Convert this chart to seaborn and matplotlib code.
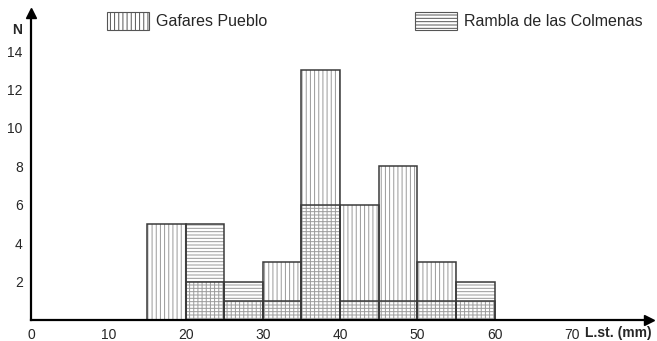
import matplotlib
matplotlib.use('Agg')
import numpy as np
import pandas as pd
import matplotlib.pyplot as plt
from matplotlib.patches import Patch
import seaborn as sns

# bin left edges (mm) and counts per series
bin_left = [15, 20, 25, 30, 35, 40, 45, 50, 55]
gafares = [5, 2, 1, 3, 13, 6, 8, 3, 1]
rambla = [0, 5, 2, 1, 6, 1, 1, 1, 2]
bin_width = 5
y_ticks = [2, 4, 6, 8, 10, 12, 14]
x_ticks = [0, 10, 20, 30, 40, 50, 60, 70]

sns.set_style("white")
plt.rcParams['font.family'] = ['Liberation Sans', 'DejaVu Sans']
plt.rcParams['hatch.linewidth'] = 0.7

bin_range = (bin_left[0], bin_left[-1] + bin_width)
centers = [b + bin_width / 2 for b in bin_left]
df = pd.DataFrame({'centre': centers, 'gafares': gafares, 'rambla': rambla})

fig = plt.figure(figsize=(6.57, 3.41), dpi=100)
ax = fig.add_axes([0.0472, 0.0616, 0.941, 0.901])

series = [('gafares', '||||'), ('rambla', '-----')]
for col, hatch in series:
    # hatched fill
    n0 = len(ax.patches)
    sns.histplot(data=df, x='centre', weights=col, binwidth=bin_width, binrange=bin_range,
                 ax=ax, color='white', edgecolor='#999999', linewidth=0, alpha=1)
    for p in ax.patches[n0:]:
        p.set_hatch(hatch)
        p.set_facecolor('none')
for col, hatch in series:
    # dark outline
    sns.histplot(data=df, x='centre', weights=col, binwidth=bin_width, binrange=bin_range,
                 ax=ax, fill=False, color='#3a3a3a', linewidth=1.1)

ax.set_xlim(0, 80)
ax.set_ylim(0, 16)
ax.set_xticks(x_ticks)
ax.set_yticks(y_ticks)
ax.tick_params(axis='x', direction='in', length=6, width=0.8, labelsize=10, pad=6, color='#555')
ax.tick_params(axis='y', direction='out', length=3, width=0.8, labelsize=10, pad=3, color='#555')
ax.set_xlabel('')
ax.set_ylabel('')
sns.despine(ax=ax)
for s in ['left', 'bottom']:
    ax.spines[s].set_linewidth(1.6)
    ax.spines[s].set_color('black')

# arrow heads
ax.plot(1, 0, '>k', markersize=7, transform=ax.transAxes, clip_on=False)
ax.plot(0, 1, '^k', markersize=7, transform=ax.transAxes, clip_on=False)

fig.text(12 / 657, 1 - 30 / 341, 'N', fontsize=10, fontweight='bold', ha='left', va='center')
fig.text(652 / 657, 1 - 333 / 341, 'L.st. (mm)', fontsize=10, fontweight='bold', ha='right', va='center')

h1 = Patch(facecolor='white', edgecolor='#555555', hatch='||||', linewidth=0.8)
h2 = Patch(facecolor='white', edgecolor='#555555', hatch='-----', linewidth=0.8)
leg_kw = dict(frameon=False, fontsize=11.5, handlelength=2.6, handleheight=1.35,
              handletextpad=0.45, borderpad=0, borderaxespad=0)
l1 = fig.legend(handles=[h1], labels=['Gafares Pueblo'], loc='upper left',
                bbox_to_anchor=(107 / 657, 1 - 12 / 341), **leg_kw)
l2 = fig.legend(handles=[h2], labels=['Rambla de las Colmenas'], loc='upper left',
                bbox_to_anchor=(415 / 657, 1 - 12 / 341), **leg_kw)

fig.savefig('out.png', dpi=100)
